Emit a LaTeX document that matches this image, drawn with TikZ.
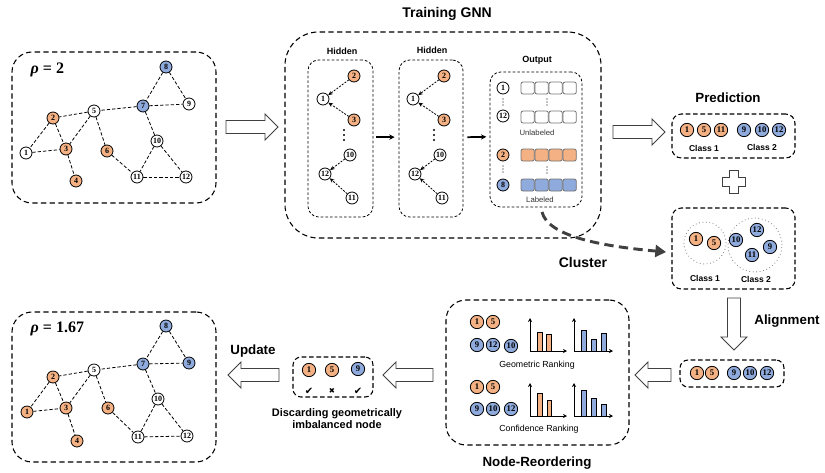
\documentclass[tikz,border=0pt]{standalone}
\usepackage{fontspec}
\setmainfont{Liberation Sans}
\newfontfamily\numfont{Liberation Serif}
\newfontfamily\symfont{DejaVu Sans}
\usetikzlibrary{arrows.meta,fit,calc}
\definecolor{orng}{HTML}{F4B183}
\definecolor{blu}{HTML}{8FAADC}
\definecolor{dgray}{HTML}{404040}
\tikzset{
  gn/.style={circle,draw=black,line width=0.6pt,minimum size=9pt,inner sep=0pt,fill=white,
    font=\numfont\bfseries\fontsize{6}{6}\selectfont},
  on/.style={gn,fill=orng}, bn/.style={gn,fill=blu},
  mn/.style={circle,draw=black,line width=0.6pt,minimum size=10pt,inner sep=0pt,fill=white,
    font=\numfont\bfseries\fontsize{6.5}{6.5}\selectfont},
  mo/.style={mn,fill=orng}, mb/.style={mn,fill=blu},
  gedge/.style={dash pattern=on 2.5pt off 1.5pt,line width=0.6pt},
  harr/.style={dash pattern=on 1.5pt off 1pt,line width=0.6pt,-{Stealth[length=3.5pt,width=3pt]}},
  solidarr/.style={line width=1.3pt,-{Stealth[length=4pt,width=4pt]}},
  bigbox/.style={draw,line width=0.8pt,dash pattern=on 4pt off 2.5pt,rounded corners=15pt,inner sep=0pt},
  midbox/.style={draw,line width=0.8pt,dash pattern=on 3.5pt off 2pt,rounded corners=7pt,inner sep=0pt},
  smallbox/.style={draw,line width=0.6pt,dash pattern=on 2pt off 1.5pt,rounded corners=8pt,inner sep=0pt},
  hollow/.style={draw=black!75,fill=white,line width=0.7pt},
  harrow/.pic={\draw[hollow] (0,-6.5) -- (#1-13,-6.5) -- (#1-13,-13) -- (#1,0) -- (#1-13,13) -- (#1-13,6.5) -- (0,6.5) -- cycle;},
  ttl/.style={font=\bfseries\fontsize{10}{12}\selectfont},
  stl/.style={font=\bfseries\fontsize{6.75}{8}\selectfont},
  cls/.style={font=\bfseries\fontsize{6.4}{8}\selectfont},
  rnk/.style={font=\fontsize{6.6}{8}\selectfont},
  sq/.style={draw=black!55,line width=0.6pt,rounded corners=1.5pt},
  axisarr/.style={line width=0.6pt,-{Stealth[length=3pt,width=3pt]}},
  barbox/.style={draw=black,line width=0.5pt},
  dotc/.style={circle,draw=black!50,dotted,line width=0.6pt,inner sep=0pt},
  rhotext/.style={anchor=west,font=\numfont\bfseries\fontsize{12}{14}\selectfont}
}
\begin{document}
\begin{tikzpicture}[x=0.75pt,y=-0.75pt]
\useasboundingbox (0,0) rectangle (825,472);

% ---------- Graph 1 ----------
\node[bigbox,fit={(12,52) (216,203)}] (g1box) {};
\node[rhotext] (rho1) at (26,70) {\textit{ρ} = 2};
\foreach \n/\x/\y/\s in {1/26/153/gn,2/53/118/on,3/66/149/on,4/76/181/on,5/94/111/gn,6/107/151/on,7/143/106/bn,8/166/67/bn,9/189/104/gn,10/157/141/gn,11/137/177/gn,12/186/177/gn}
  \node[\s] (a\n) at (\x,\y) {\n};
\foreach \u/\v in {8/7,8/9,7/9,7/5,5/2,2/1,2/3,1/3,3/4,5/3,5/6,6/11,7/10,10/11,10/12,11/12}
  \draw[gedge] (a\u) -- (a\v);

% ---------- Graph 2 ----------
\node[bigbox,fit={(12,312) (216,462)}] (g2box) {};
\node[rhotext] (rho2) at (26,329) {\textit{ρ} = 1.67};
\foreach \n/\x/\y/\s in {1/27/412/on,2/53/377/on,3/66/408/on,4/77/441/on,5/94/370/gn,6/108/408/on,7/143/364/bn,8/166/326/bn,9/189/363/bn,10/158/399/gn,11/138/437/gn,12/187/436/gn}
  \node[\s] (b\n) at (\x,\y) {\n};
\foreach \u/\v in {8/7,8/9,7/9,7/5,5/2,2/1,2/3,1/3,3/4,5/3,5/6,6/11,7/10,10/11,10/12,11/12}
  \draw[gedge] (b\u) -- (b\v);

% ---------- hollow arrows ----------
\pic at (226,127) {harrow=52};
\pic at (613,132) {harrow=52};
\pic[rotate=-90] at (734,298) {harrow=52};
\pic[rotate=180] at (671,375) {harrow=36};
\pic[rotate=180] at (433,375) {harrow=50};
\pic[rotate=180] at (279,375) {harrow=51};
% plus
\draw[hollow] (729.5,170.5) -- (738.5,170.5) -- (738.5,177.5) -- (745.5,177.5) -- (745.5,186.5) -- (738.5,186.5) -- (738.5,193.5) -- (729.5,193.5) -- (729.5,186.5) -- (722.5,186.5) -- (722.5,177.5) -- (729.5,177.5) -- cycle;

% ---------- Training GNN ----------
\node[bigbox,rounded corners=25pt,fit={(285,32) (601,238)}] (tbox) {};
\node[font=\bfseries\fontsize{10.5}{12}\selectfont] (ttitle) at (447,14) {Training GNN};
\node[smallbox,fit={(308,60) (373,217)}] (hb1) {};
\node[smallbox,fit={(399,60) (463,217)}] (hb2) {};
\node[smallbox,fit={(490,72) (582,207)}] (ob) {};
\node[stl] (hl1) at (342,51) {Hidden};
\node[stl] (hl2) at (432,50) {Hidden};
\node[stl] (ol) at (537,60) {Output};
\foreach \p/\dx in {h/0,k/90}{
  \node[on] (\p2) at (354+\dx,76) {2};
  \node[gn] (\p1) at (323+\dx,99) {1};
  \node[on] (\p3) at (354+\dx,120) {3};
  \node[gn] (\p10) at (350+\dx,155) {10};
  \node[gn] (\p12) at (325+\dx,174) {12};
  \node[gn] (\p11) at (352+\dx,198) {11};
  \foreach \yy in {130,135,140} \fill (344+\dx,\yy) circle (1.1);
  \draw[harr] (\p2) -- (\p1);
  \draw[harr] (\p3) -- (\p1);
  \draw[harr] (\p10) -- (\p12);
  \draw[harr] (\p11) -- (\p12);
}
\draw[solidarr] ([xshift=2pt,yshift=1pt]hb1.east) -- ([xshift=-3pt,yshift=1pt]hb2.west);
\draw[solidarr] ([xshift=3pt,yshift=1pt]hb2.east) -- ([xshift=-2.5pt,yshift=2pt]ob.west);
% output contents
\node[gn] (o1) at (503,88) {1};
\node[gn] (o12) at (503,116) {12};
\node[on] (o2) at (503,155) {2};
\node[bn] (o8) at (503,185) {8};
\foreach \yy in {99,102,105} {\fill (503,\yy) circle (0.6); \fill (547,\yy) circle (0.6);}
\foreach \yy in {166,169,172} {\fill (503,\yy) circle (0.6); \fill (547,\yy+1) circle (0.6);}
\foreach \i in {0,1,2,3}{
  \draw[sq] (521+14*\i,82) rectangle ++(13.3,12);
  \draw[sq] (521+14*\i,111) rectangle ++(13.3,12);
  \draw[sq,fill=orng] (521+14*\i,149) rectangle ++(13.3,12);
  \draw[sq,fill=blu] (521+14*\i,179) rectangle ++(13.3,12);
}
\node[font=\fontsize{5.8}{7}\selectfont,text=black!80] (unl) at (537,133) {Unlabeled};
\node[font=\fontsize{5.8}{7}\selectfont,text=black!80] (lab) at (540,200) {Labeled};

% ---------- Prediction ----------
\node[midbox,fit={(672,114) (795,158)}] (pbox) {};
\node[ttl] (ptitle) at (728,98) {Prediction};
\foreach \n/\x/\s in {1/687/mo,5/704/mo,11/721/mo,9/744/mb,10/762/mb,12/779/mb}
  \node[\s] (p\n) at (\x,130) {\n};
\node[cls] (pc1) at (704,148) {Class 1};
\node[cls] (pc2) at (762,147) {Class 2};

% ---------- Cluster ----------
\node[midbox,fit={(672,208) (795,289)}] (cbox) {};
\node[dotc,minimum size=31.5pt] (cc1) at (705,243) {};
\node[dotc,minimum size=40.5pt] (cc2) at (755,245) {};
\foreach \n/\x/\y/\s in {1/696/239/mo,5/714/243/mo,10/736/240/mb,12/757/230/mb,9/770/247/mb,11/752/255/mb}
  \node[\s] (c\n) at (\x,\y) {\n};
\node[cls] (cl1) at (705,278) {Class 1};
\node[cls] (cl2) at (756,279) {Class 2};
\coordinate (cstart) at (542,212);
\coordinate (cend) at (666,252);
\draw[dgray,line width=2.2pt,dash pattern=on 7pt off 4pt,-{Triangle[length=8pt,width=9pt]}]
  (cstart) .. controls (548,236) and (600,246) .. (cend);
\node[font=\bfseries\fontsize{10.5}{12}\selectfont] (cltitle) at (583,262) {Cluster};

% ---------- Alignment ----------
\node[ttl] (atitle) at (787,321) {Alignment};
\node[midbox,rounded corners=6pt,fit={(680,360) (784,387)}] (abox) {};
\foreach \n/\x/\s in {1/697/mo,5/712/mo,9/734/mb,10/750/mb,12/767/mb}
  \node[\s] (al\n) at (\x,373) {\n};

% ---------- Node-Reordering ----------
\node[bigbox,fit={(446,300) (629,445)}] (rbox) {};
\node[ttl] (rtitle) at (537,463) {Node-Reordering};
\foreach \n/\x/\y/\s in {1/477/322/mo,5/493/322/mo,9/477/345/mb,12/493/345/mb,10/511/346/mb}
  \node[\s] (r\n) at (\x,\y) {\n};
\foreach \n/\x/\y/\s in {1/477/387/mo,5/493/387/mo,9/477/409/mb,10/493/409/mb,12/511/409/mb}
  \node[\s] (s\n) at (\x,\y) {\n};
\node[rnk] (gr) at (537,365) {Geometric Ranking};
\node[rnk] (cr) at (539,429) {Confidence Ranking};
% charts top
\draw[axisarr] (530,351) -- (530,318);
\draw[axisarr] (530,351) -- (567,351);
\draw[barbox,fill=orng] (537,351) rectangle (542,332);
\draw[barbox,fill=orng] (546.5,351) rectangle (551,334.5);
\draw[axisarr] (574,351) -- (574,318);
\draw[axisarr] (574,351) -- (613,351);
\draw[barbox,fill=blu] (581,351) rectangle (586,330);
\draw[barbox,fill=blu] (591,351) rectangle (596,339);
\draw[barbox,fill=blu] (601,351) rectangle (606,333);
% charts bottom
\draw[axisarr] (530,416) -- (530,383);
\draw[axisarr] (530,416) -- (567,416);
\draw[barbox,fill=orng] (537,416) rectangle (542,393);
\draw[barbox,fill=orng] (547,416) rectangle (551.5,400);
\draw[axisarr] (574,416) -- (574,383);
\draw[axisarr] (574,416) -- (613,416);
\draw[barbox,fill=blu] (581,416) rectangle (586,390);
\draw[barbox,fill=blu] (591,416) rectangle (596,398);
\draw[barbox,fill=blu] (601,416) rectangle (606,404);

% ---------- Discarding ----------
\node[midbox,rounded corners=6pt,fit={(293,357) (373,397)}] (dbox) {};
\node[mo] (d1) at (309,370) {1};
\node[mo] (d5) at (332,370) {5};
\node[mb] (d9) at (358,369) {9};
\node[font=\symfont\fontsize{7.5}{8}\selectfont] (m1) at (309,391) {✔};
\node[font=\symfont\fontsize{5.5}{6}\selectfont] (m2) at (332,391) {✖};
\node[font=\symfont\fontsize{7.5}{8}\selectfont] (m3) at (358,391) {✔};
\node[font=\bfseries\fontsize{8.2}{10}\selectfont,align=center] (dtext) at (337,419) {Discarding geometrically\\[-1pt]imbalanced node};
\node[ttl] (utitle) at (253,351) {Update};
\end{tikzpicture}
\end{document}
